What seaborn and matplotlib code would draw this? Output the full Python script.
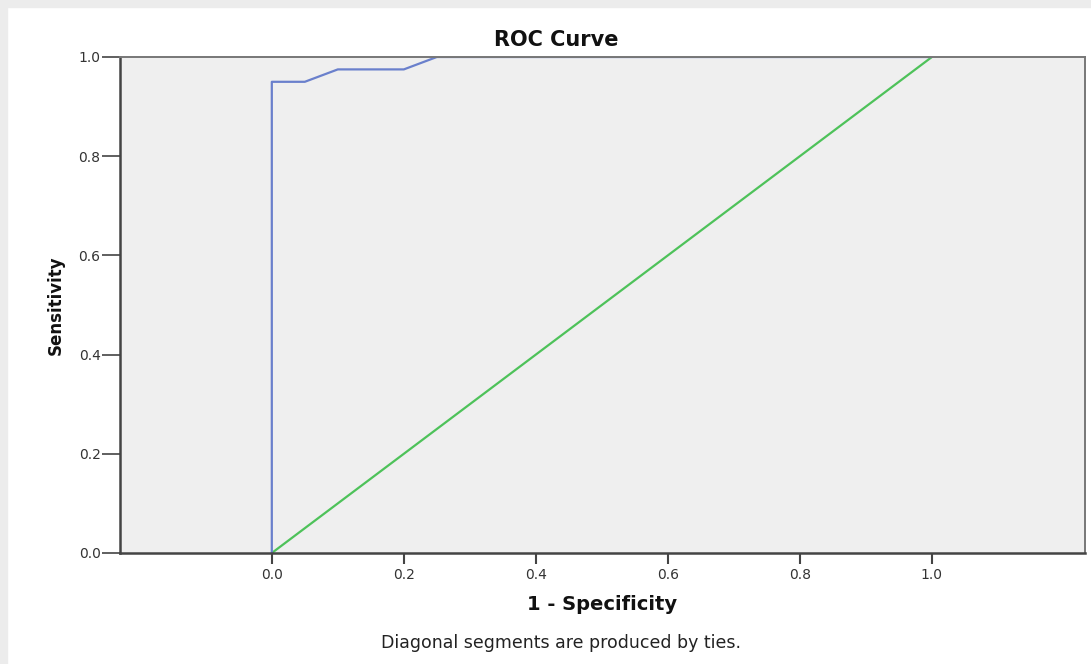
import numpy as np
import pandas as pd
import seaborn as sns
import matplotlib.pyplot as plt
from matplotlib.patches import Rectangle

# ROC curve points
fpr = [0.0, 0.0, 0.05, 0.10, 0.20, 0.25, 1.0]
tpr = [0.0, 0.95, 0.95, 0.975, 0.975, 1.0, 1.0]
ref_x = [0.0, 1.0]
ref_y = [0.0, 1.0]
ticks = [0.0, 0.2, 0.4, 0.6, 0.8, 1.0]


def main():
    sns.set_style("white")
    plt.rcParams['font.family'] = ['DejaVu Sans']

    fig = plt.figure(figsize=(10.91, 6.64), dpi=100)
    fig.patch.set_facecolor('white')
    # light gray frame of the output viewer
    fig.patches.append(Rectangle((0, 0.989), 1, 0.011, transform=fig.transFigure,
                                 color='#ececec', zorder=0))
    fig.patches.append(Rectangle((0, 0), 0.006, 1, transform=fig.transFigure,
                                 color='#ececec', zorder=0))

    ax = fig.add_axes([120 / 1091, 1 - 553 / 664, 965 / 1091, 496 / 664])
    ax.set_facecolor('#efefef')

    roc = pd.DataFrame({'fpr': fpr, 'tpr': tpr})
    ref = pd.DataFrame({'x': ref_x, 'y': ref_y})
    sns.lineplot(data=ref, x='x', y='y', sort=False, estimator=None,
                 color='#4ec25a', lw=1.6, ax=ax)
    sns.lineplot(data=roc, x='fpr', y='tpr', sort=False, estimator=None,
                 color='#6a80cc', lw=1.6, ax=ax)

    ax.set_xlim(-0.23, 1.232)
    ax.set_ylim(0, 1)
    ax.set_xticks(ticks)
    ax.set_yticks(ticks)
    ax.set_xticklabels([f'{t:.1f}' for t in ticks])
    ax.set_yticklabels([f'{t:.1f}' for t in ticks])
    ax.tick_params(axis='x', direction='out', length=8, width=1.5, color='#444',
                   labelsize=10, labelcolor='#333', pad=3, bottom=True)
    ax.tick_params(axis='y', direction='out', length=13, width=1.2, color='#444',
                   labelsize=10, labelcolor='#333', pad=1, left=True)

    for side in ['left', 'bottom']:
        ax.spines[side].set_color('#444')
        ax.spines[side].set_linewidth(1.8)
    for side in ['top', 'right']:
        ax.spines[side].set_color('#777')
        ax.spines[side].set_linewidth(1.4)

    ax.set_xlabel('1 - Specificity', fontsize=14, fontweight='bold', labelpad=9,
                  color='#111')
    ax.set_ylabel('Sensitivity', fontsize=12, fontweight='bold', labelpad=10,
                  color='#111')
    fig.text(556 / 1091, 1 - 40 / 664, 'ROC Curve', ha='center', va='center',
             fontsize=15, fontweight='bold', color='#111')
    fig.text(561 / 1091, 1 - 643 / 664, 'Diagonal segments are produced by ties.',
             ha='center', va='center', fontsize=12.5, color='#222')

    fig.savefig('out.png', dpi=100)


if __name__ == "__main__":
    main()
